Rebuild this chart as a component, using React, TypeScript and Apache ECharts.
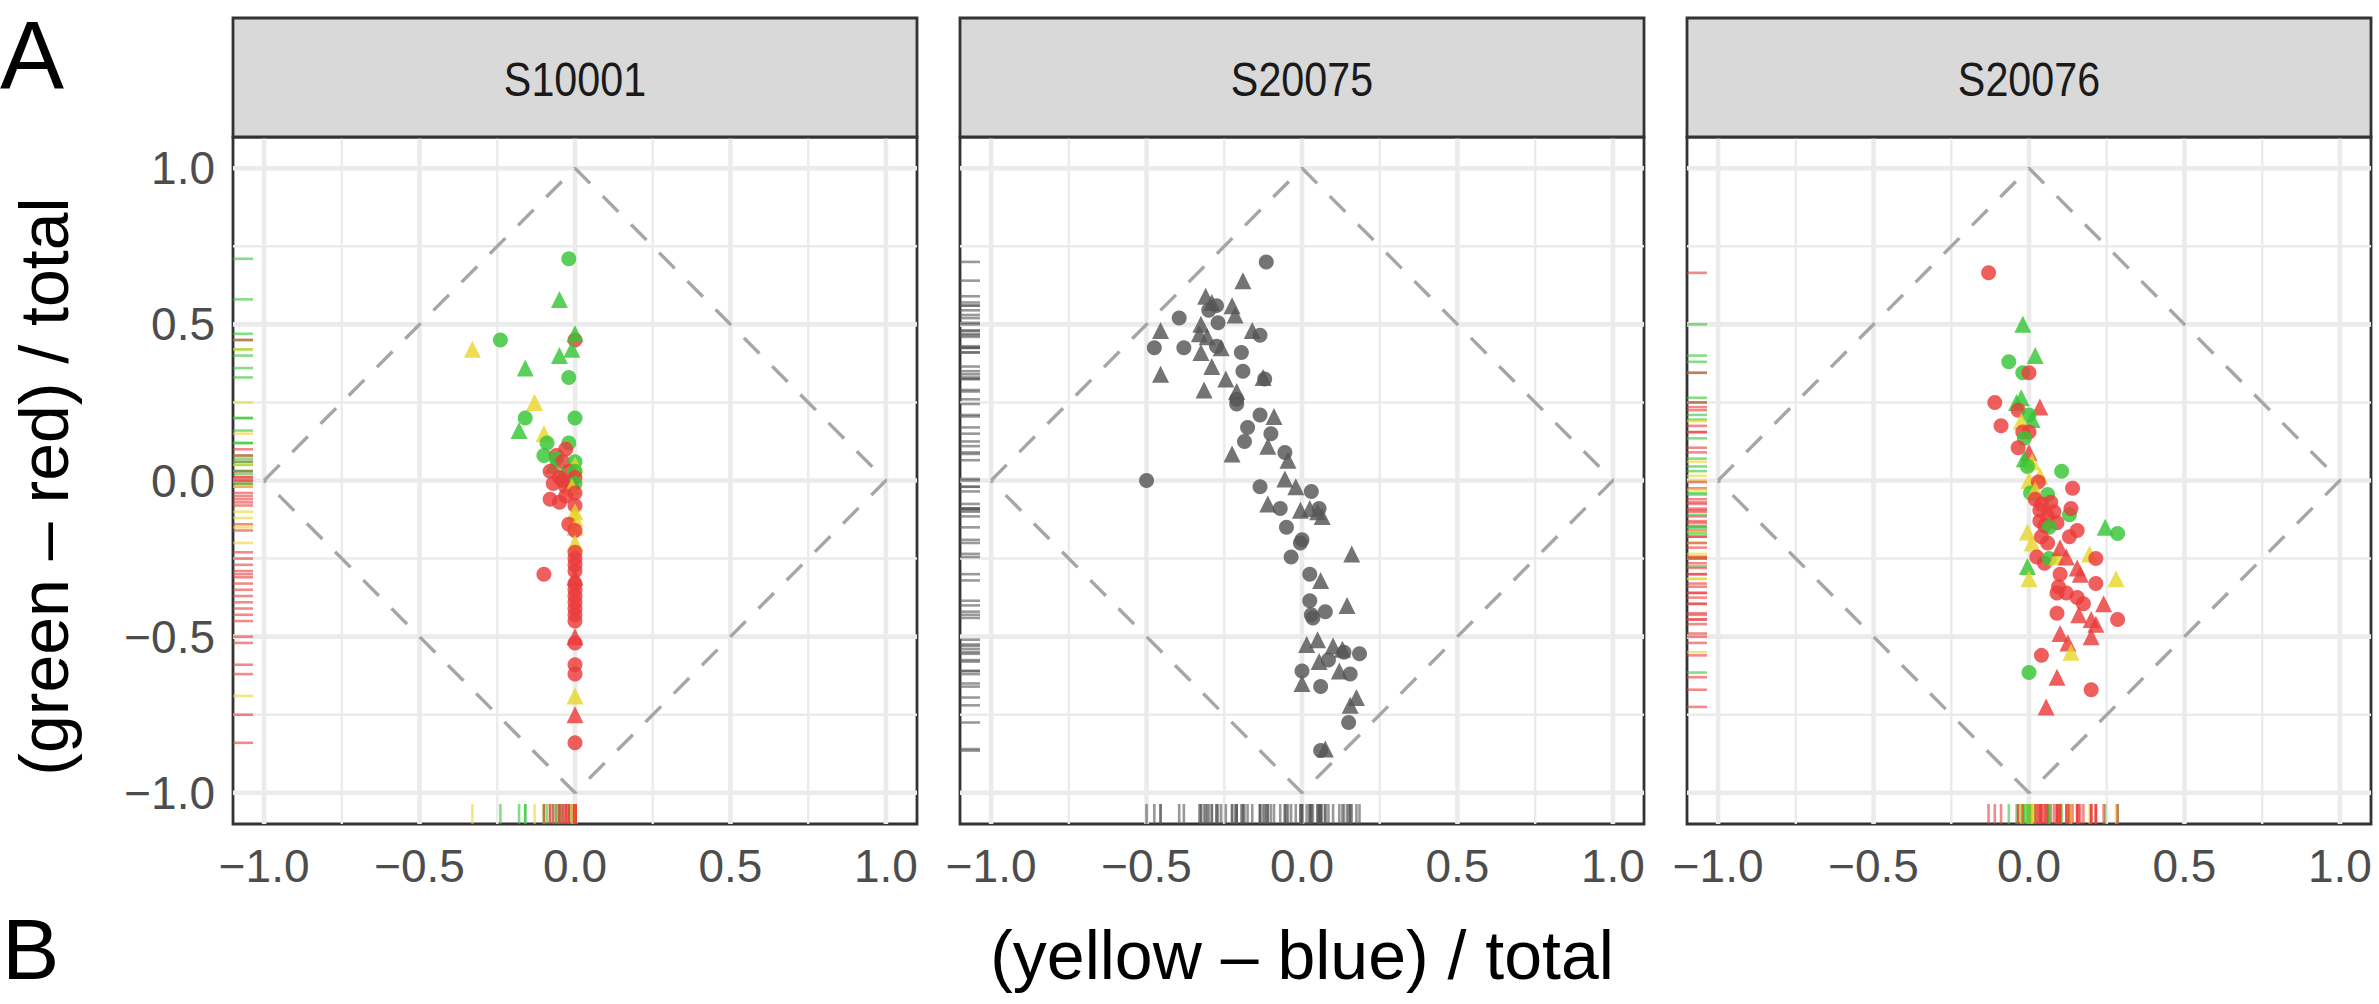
import React, { useEffect, useRef } from "react";
import * as echarts from "echarts";

// ---------- data ----------
const PANELS = ["S10001", "S20075", "S20076"];
const TICK_VALUES = [-1, -0.5, 0, 0.5, 1];
const GRID_VALUES = [-1, -0.75, -0.5, -0.25, 0, 0.25, 0.5, 0.75, 1];
const DIAMOND = [[-1, 0], [0, 1], [1, 0], [0, -1], [-1, 0]];
const AXIS_MIN = -1.1;
const AXIS_MAX = 1.1;
const X_TITLE = "(yellow \u2013 blue) / total";
const Y_TITLE = "(green \u2013 red) / total";

// [x, y, colour key, shape key]  colour: r/g/y/k  shape: c = circle, t = triangle
type Pt = [number, number, string, string];

const S10001_POINTS: Pt[] = [
  [-0.02, 0.71, "g", "c"], [-0.05, 0.58, "g", "t"], [-0.24, 0.45, "g", "c"],
  [0.0, 0.45, "r", "c"], [0.0, 0.47, "g", "t"], [-0.05, 0.4, "g", "t"],
  [-0.01, 0.42, "g", "t"], [-0.33, 0.42, "y", "t"], [-0.16, 0.36, "g", "t"],
  [-0.02, 0.33, "g", "c"], [-0.13, 0.25, "y", "t"], [-0.16, 0.2, "g", "c"],
  [0.0, 0.2, "g", "c"], [-0.18, 0.16, "g", "t"], [-0.1, 0.15, "y", "t"],
  [-0.09, 0.12, "g", "c"], [-0.02, 0.12, "g", "c"], [-0.03, 0.1, "r", "c"],
  [-0.1, 0.08, "g", "c"], [-0.06, 0.08, "r", "c"], [-0.06, 0.07, "g", "c"],
  [-0.04, 0.06, "r", "c"], [0.0, 0.06, "g", "c"], [-0.07, 0.05, "g", "t"],
  [0.0, 0.05, "y", "t"], [-0.08, 0.03, "r", "c"], [-0.02, 0.03, "r", "c"],
  [0.0, 0.03, "g", "c"], [-0.04, 0.02, "g", "t"], [-0.05, 0.01, "r", "c"],
  [0.0, 0.01, "r", "c"], [-0.01, 0.0, "r", "t"], [-0.04, 0.0, "r", "c"],
  [-0.07, -0.01, "r", "c"], [0.0, -0.01, "g", "c"], [-0.03, -0.02, "r", "c"],
  [-0.01, -0.02, "y", "t"], [0.0, -0.04, "r", "c"], [-0.03, -0.05, "r", "c"],
  [-0.08, -0.06, "r", "c"], [-0.05, -0.07, "r", "c"], [0.0, -0.08, "r", "c"],
  [0.0, -0.1, "y", "t"], [0.0, -0.12, "y", "t"], [-0.02, -0.14, "r", "c"],
  [0.0, -0.15, "y", "t"], [0.0, -0.16, "r", "c"], [0.0, -0.2, "y", "t"],
  [0.0, -0.23, "r", "c"], [0.0, -0.25, "r", "c"], [0.0, -0.27, "r", "c"],
  [0.0, -0.29, "r", "c"], [-0.1, -0.3, "r", "c"], [0.0, -0.31, "r", "t"],
  [0.0, -0.33, "r", "c"], [0.0, -0.35, "r", "c"], [0.0, -0.37, "r", "c"],
  [0.0, -0.39, "r", "c"], [0.0, -0.41, "r", "c"], [0.0, -0.43, "r", "c"],
  [0.0, -0.45, "r", "c"], [0.0, -0.5, "r", "t"], [0.0, -0.52, "r", "c"],
  [0.0, -0.59, "r", "c"], [0.0, -0.62, "r", "c"], [0.0, -0.69, "y", "t"],
  [0.0, -0.75, "r", "t"], [0.0, -0.84, "r", "c"],
];

const S20075_POINTS: Pt[] = [
  [-0.115, 0.7, "k", "c"], [-0.19, 0.64, "k", "t"], [-0.31, 0.59, "k", "t"],
  [-0.29, 0.57, "k", "t"], [-0.275, 0.56, "k", "c"], [-0.3, 0.545, "k", "c"],
  [-0.225, 0.56, "k", "t"], [-0.215, 0.53, "k", "t"], [-0.395, 0.52, "k", "c"],
  [-0.325, 0.5, "k", "t"], [-0.27, 0.505, "k", "c"], [-0.455, 0.48, "k", "t"],
  [-0.33, 0.47, "k", "t"], [-0.16, 0.48, "k", "t"], [-0.135, 0.465, "k", "c"],
  [-0.305, 0.46, "k", "t"], [-0.475, 0.425, "k", "c"], [-0.38, 0.425, "k", "c"],
  [-0.325, 0.41, "k", "t"], [-0.275, 0.43, "k", "c"], [-0.26, 0.425, "k", "t"],
  [-0.195, 0.41, "k", "c"], [-0.29, 0.365, "k", "t"], [-0.19, 0.35, "k", "c"],
  [-0.245, 0.325, "k", "t"], [-0.125, 0.33, "k", "t"], [-0.12, 0.325, "k", "c"],
  [-0.455, 0.34, "k", "t"], [-0.315, 0.29, "k", "t"], [-0.21, 0.285, "k", "t"],
  [-0.21, 0.26, "k", "c"], [-0.21, 0.245, "k", "c"], [-0.135, 0.21, "k", "c"],
  [-0.09, 0.205, "k", "t"], [-0.175, 0.17, "k", "c"], [-0.1, 0.15, "k", "c"],
  [-0.185, 0.125, "k", "c"], [-0.11, 0.11, "k", "t"], [-0.055, 0.09, "k", "c"],
  [-0.045, 0.065, "k", "t"], [-0.225, 0.085, "k", "t"], [-0.5, 0.0, "k", "c"],
  [-0.055, 0.005, "k", "t"], [-0.135, -0.02, "k", "c"], [-0.02, -0.02, "k", "t"],
  [0.03, -0.035, "k", "c"], [-0.11, -0.075, "k", "t"], [-0.07, -0.09, "k", "c"],
  [-0.005, -0.095, "k", "t"], [0.025, -0.09, "k", "t"], [0.05, -0.1, "k", "t"],
  [0.065, -0.115, "k", "t"], [0.055, -0.09, "k", "c"], [-0.05, -0.15, "k", "c"],
  [0.0, -0.19, "k", "c"], [-0.005, -0.2, "k", "c"], [-0.035, -0.245, "k", "c"],
  [0.16, -0.235, "k", "t"], [0.025, -0.3, "k", "c"], [0.06, -0.32, "k", "t"],
  [0.025, -0.385, "k", "c"], [0.03, -0.43, "k", "c"], [0.075, -0.42, "k", "c"],
  [0.035, -0.44, "k", "c"], [0.145, -0.4, "k", "t"], [0.015, -0.525, "k", "t"],
  [0.05, -0.51, "k", "t"], [0.1, -0.53, "k", "t"], [0.135, -0.55, "k", "c"],
  [0.13, -0.54, "k", "t"], [0.185, -0.555, "k", "c"], [0.055, -0.58, "k", "t"],
  [0.085, -0.575, "k", "c"], [0.0, -0.61, "k", "c"], [0.12, -0.61, "k", "t"],
  [0.155, -0.62, "k", "c"], [0.0, -0.65, "k", "t"], [0.06, -0.66, "k", "c"],
  [0.175, -0.695, "k", "t"], [0.155, -0.72, "k", "t"], [0.15, -0.775, "k", "c"],
  [0.06, -0.865, "k", "c"], [0.075, -0.86, "k", "t"],
];

const S20076_POINTS: Pt[] = [
  [-0.13, 0.665, "r", "c"], [-0.02, 0.5, "g", "t"], [0.02, 0.4, "g", "t"],
  [-0.065, 0.38, "g", "c"], [-0.02, 0.345, "g", "c"], [0.0, 0.345, "r", "c"],
  [-0.025, 0.265, "g", "t"], [-0.04, 0.25, "g", "t"], [-0.11, 0.25, "r", "c"],
  [0.035, 0.235, "r", "t"], [-0.035, 0.225, "r", "c"], [0.0, 0.21, "g", "c"],
  [0.01, 0.195, "g", "t"], [-0.025, 0.19, "y", "t"], [-0.09, 0.175, "r", "c"],
  [-0.02, 0.155, "r", "c"], [0.0, 0.155, "r", "c"], [-0.015, 0.135, "g", "c"],
  [-0.035, 0.105, "r", "c"], [0.0, 0.09, "r", "t"], [-0.015, 0.07, "g", "t"],
  [0.01, 0.06, "y", "t"], [-0.005, 0.045, "g", "c"], [0.105, 0.03, "g", "c"],
  [0.035, 0.015, "y", "t"], [0.0, 0.0, "y", "t"], [0.03, -0.005, "r", "c"],
  [0.14, -0.025, "r", "c"], [0.005, -0.04, "g", "c"], [0.06, -0.045, "g", "c"],
  [0.02, -0.03, "y", "t"], [0.02, -0.06, "r", "c"], [0.035, -0.095, "r", "c"],
  [0.07, -0.07, "r", "c"], [0.06, -0.115, "r", "c"], [0.04, -0.075, "r", "c"],
  [0.08, -0.1, "r", "c"], [0.05, -0.145, "r", "c"], [0.035, -0.13, "r", "c"],
  [0.09, -0.135, "r", "c"], [0.065, -0.15, "g", "c"], [0.13, -0.11, "g", "c"],
  [0.135, -0.09, "r", "c"], [0.155, -0.16, "r", "c"], [0.13, -0.18, "r", "c"],
  [-0.005, -0.165, "y", "t"], [0.01, -0.2, "y", "t"], [0.04, -0.18, "r", "c"],
  [0.06, -0.2, "r", "c"], [0.245, -0.15, "g", "t"], [0.285, -0.17, "g", "c"],
  [0.025, -0.245, "r", "c"], [0.05, -0.265, "r", "c"], [0.065, -0.25, "g", "c"],
  [0.09, -0.245, "y", "t"], [0.12, -0.245, "r", "t"], [0.1, -0.215, "r", "t"],
  [0.195, -0.235, "y", "t"], [0.215, -0.25, "r", "c"], [-0.005, -0.275, "g", "t"],
  [0.0, -0.315, "y", "t"], [0.1, -0.3, "r", "c"], [0.155, -0.28, "r", "t"],
  [0.165, -0.3, "r", "t"], [0.215, -0.33, "r", "c"], [0.28, -0.315, "y", "t"],
  [0.09, -0.36, "r", "c"], [0.12, -0.36, "r", "c"], [0.095, -0.34, "r", "c"],
  [0.155, -0.375, "r", "c"], [0.175, -0.395, "r", "c"], [0.24, -0.395, "r", "t"],
  [0.09, -0.425, "r", "c"], [0.16, -0.43, "r", "t"], [0.2, -0.445, "r", "t"],
  [0.215, -0.46, "r", "t"], [0.285, -0.445, "r", "c"], [0.1, -0.49, "r", "t"],
  [0.125, -0.52, "r", "t"], [0.2, -0.5, "r", "t"], [0.135, -0.55, "y", "t"],
  [0.04, -0.56, "r", "c"], [0.0, -0.615, "g", "c"], [0.09, -0.63, "r", "t"],
  [0.2, -0.67, "r", "c"], [0.055, -0.725, "r", "t"],
];

const PANEL_POINTS: Pt[][] = [S10001_POINTS, S20075_POINTS, S20076_POINTS];

// ---------- styling / layout ----------
const COLOR_KEYS = ["r", "g", "y", "k"];
const POINT_COLORS: Record<string, string> = {
  r: "#EA3C3A",
  g: "#36C636",
  y: "#E8D62C",
  k: "#555555",
};
const FONT = "'Liberation Sans', Arial, Helvetica, sans-serif";
const GRID_LEFTS = [233, 960, 1687];
const GRID_TOP = 137;
const GRID_W = 684;
const GRID_H = 687;
const STRIP_TOP = 18;
const RUG_LEN = 20;
const BORDER = "#333333";

const fmt = (v: number) => (v < 0 ? "\u2212" : "") + Math.abs(v).toFixed(1);

function buildOption() {
  const grids = PANELS.map((_, i) => ({
    left: GRID_LEFTS[i],
    top: GRID_TOP,
    width: GRID_W,
    height: GRID_H,
    show: true,
    borderColor: BORDER,
    borderWidth: 2.8,
    backgroundColor: "transparent",
    containLabel: false,
  }));

  const xAxes = PANELS.map((_, i) => ({
    gridIndex: i,
    type: "value",
    min: AXIS_MIN,
    max: AXIS_MAX,
    axisLine: { show: false },
    splitLine: { show: false },
    axisTick: {
      show: true,
      customValues: TICK_VALUES,
      length: 12,
      lineStyle: { color: BORDER, width: 2.8 },
    },
    axisLabel: {
      customValues: TICK_VALUES,
      formatter: fmt,
      fontSize: 46,
      color: "#4d4d4d",
      margin: 19,
      fontFamily: FONT,
    },
  }));

  const yAxes = PANELS.map((_, i) => ({
    gridIndex: i,
    type: "value",
    min: AXIS_MIN,
    max: AXIS_MAX,
    axisLine: { show: false },
    splitLine: { show: false },
    axisTick: {
      show: i === 0,
      customValues: TICK_VALUES,
      length: 12,
      lineStyle: { color: BORDER, width: 2.8 },
    },
    axisLabel: {
      show: i === 0,
      customValues: TICK_VALUES,
      formatter: fmt,
      fontSize: 46,
      color: "#4d4d4d",
      margin: 18,
      fontFamily: FONT,
    },
  }));

  const series: any[] = [];
  PANELS.forEach((_, i) => {
    // background grid lines
    series.push({
      type: "custom",
      xAxisIndex: i,
      yAxisIndex: i,
      z: 1,
      silent: true,
      data: GRID_VALUES.map((v) => [v, v]),
      renderItem: (params: any, api: any) => {
        const v = api.value(0);
        const cs = params.coordSys;
        const px = api.coord([v, 0])[0];
        const py = api.coord([0, v])[1];
        const major = Math.abs(v * 2 - Math.round(v * 2)) < 1e-6;
        const w = major ? 4.6 : 2.4;
        return {
          type: "group",
          children: [
            {
              type: "line",
              shape: { x1: px, y1: cs.y, x2: px, y2: cs.y + cs.height },
              style: { stroke: "#ebebeb", lineWidth: w },
            },
            {
              type: "line",
              shape: { x1: cs.x, y1: py, x2: cs.x + cs.width, y2: py },
              style: { stroke: "#ebebeb", lineWidth: w },
            },
          ],
        };
      },
    });
    // dashed diamond
    series.push({
      type: "line",
      xAxisIndex: i,
      yAxisIndex: i,
      z: 2,
      silent: true,
      symbol: "none",
      data: DIAMOND,
      lineStyle: { color: "#a6a6a6", width: 3.4, type: [22, 18] },
    });
    // rugs
    const pts = PANEL_POINTS[i];
    series.push({
      type: "custom",
      xAxisIndex: i,
      yAxisIndex: i,
      z: 3,
      silent: true,
      data: pts.map((p) => [p[0], p[1], COLOR_KEYS.indexOf(p[2])]),
      renderItem: (params: any, api: any) => {
        const x = api.value(0);
        const y = api.value(1);
        const c = POINT_COLORS[COLOR_KEYS[api.value(2)]];
        const pb = api.coord([x, AXIS_MIN]);
        const pl = api.coord([AXIS_MIN, y]);
        return {
          type: "group",
          children: [
            {
              type: "line",
              shape: { x1: pb[0], y1: pb[1], x2: pb[0], y2: pb[1] - RUG_LEN },
              style: { stroke: c, lineWidth: 2.6, opacity: 0.6 },
            },
            {
              type: "line",
              shape: { x1: pl[0], y1: pl[1], x2: pl[0] + RUG_LEN, y2: pl[1] },
              style: { stroke: c, lineWidth: 2.6, opacity: 0.6 },
            },
          ],
        };
      },
    });
    // points
    series.push({
      type: "scatter",
      xAxisIndex: i,
      yAxisIndex: i,
      z: 4,
      data: pts.map((p) => ({
        value: [p[0], p[1]],
        symbol: p[3] === "t" ? "triangle" : "circle",
        symbolSize: p[3] === "t" ? 17 : 15,
        itemStyle: { color: POINT_COLORS[p[2]], opacity: 0.82 },
      })),
    });
  });

  const graphics: any[] = [];
  PANELS.forEach((name, i) => {
    graphics.push({
      type: "rect",
      shape: { x: GRID_LEFTS[i], y: STRIP_TOP, width: GRID_W, height: GRID_TOP - STRIP_TOP },
      style: { fill: "#d9d9d9", stroke: BORDER, lineWidth: 2.8 },
      z: 10,
    });
    graphics.push({
      type: "text",
      x: GRID_LEFTS[i] + GRID_W / 2,
      y: (STRIP_TOP + GRID_TOP) / 2 + 1,
      scaleX: 0.86,
      z: 11,
      style: {
        text: name,
        fontSize: 48,
        fontFamily: FONT,
        fill: "#1a1a1a",
        align: "center",
        verticalAlign: "middle",
        textAlign: "center",
        textVerticalAlign: "middle",
      },
    });
  });
  const centerX = (GRID_LEFTS[0] + GRID_LEFTS[2] + GRID_W) / 2;
  graphics.push({
    type: "text",
    x: centerX,
    y: 955,
    style: {
      text: X_TITLE,
      fontSize: 68,
      fontFamily: FONT,
      fill: "#000",
      align: "center",
      verticalAlign: "middle",
      textAlign: "center",
      textVerticalAlign: "middle",
    },
  });
  graphics.push({
    type: "text",
    x: 44,
    y: GRID_TOP + GRID_H / 2 + 6,
    rotation: Math.PI / 2,
    style: {
      text: Y_TITLE,
      fontSize: 68,
      fontFamily: FONT,
      fill: "#000",
      align: "center",
      verticalAlign: "middle",
      textAlign: "center",
      textVerticalAlign: "middle",
    },
  });
  graphics.push({
    type: "text",
    x: 0,
    y: 54,
    style: {
      text: "A",
      fontSize: 96,
      fontFamily: FONT,
      fill: "#000",
      align: "left",
      verticalAlign: "middle",
      textAlign: "left",
      textVerticalAlign: "middle",
    },
  });
  graphics.push({
    type: "text",
    x: 2,
    y: 992,
    style: {
      text: "B",
      fontSize: 86,
      fontFamily: FONT,
      fill: "#000",
      align: "left",
      verticalAlign: "bottom",
      textAlign: "left",
      textVerticalAlign: "bottom",
    },
  });

  return {
    animation: false,
    backgroundColor: "#ffffff",
    grid: grids,
    xAxis: xAxes,
    yAxis: yAxes,
    series,
    graphic: graphics,
  };
}

export default function App() {
  const ref = useRef<HTMLDivElement>(null);
  useEffect(() => {
    if (!ref.current) return;
    const chart = echarts.init(ref.current, undefined, { renderer: "svg" });
    chart.setOption(buildOption() as any);
    return () => chart.dispose();
  }, []);
  return (
    <div
      ref={ref}
      style={{ position: "fixed", left: 0, top: 0, width: 2379, height: 1004, background: "#fff" }}
    />
  );
}
